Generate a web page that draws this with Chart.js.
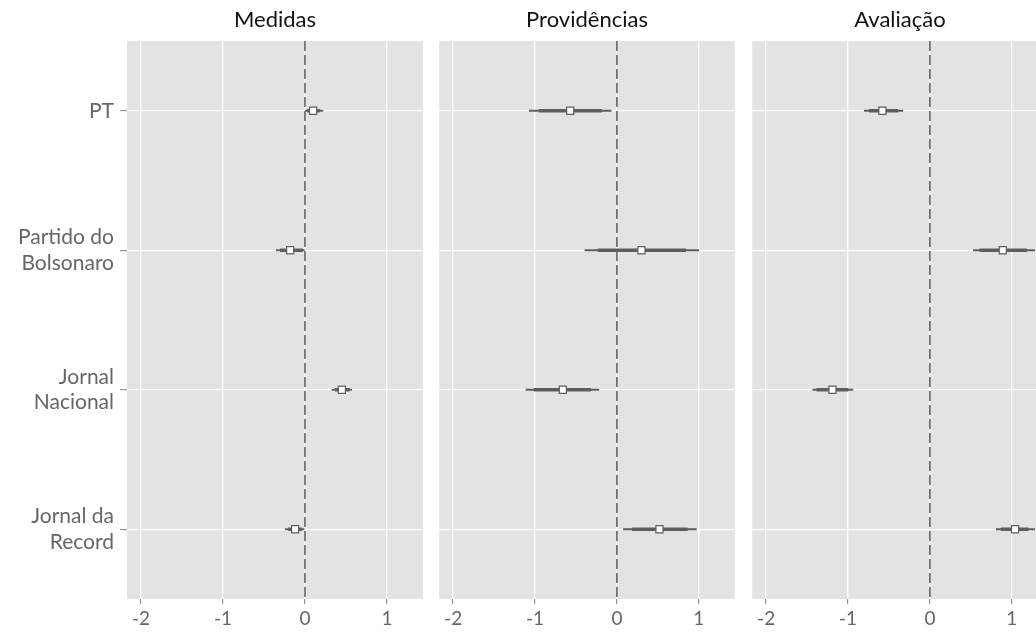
<!DOCTYPE html>
<html>
<head>
<meta charset="utf-8">
<script src="https://cdn.jsdelivr.net/npm/chart.js@4"></script>
<style>
  html, body { margin: 0; padding: 0; background: #fff; }
  #wrap { position: relative; width: 1036px; height: 637px; overflow: hidden; }
  canvas { position: absolute; top: 0; }
</style>
</head>
<body>
<div id="wrap">
  <canvas id="c1" width="430" height="637" style="left:0px"></canvas>
  <canvas id="c2" width="308" height="637" style="left:433px"></canvas>
  <canvas id="c3" width="308" height="637" style="left:746px"></canvas>
</div>
<script>
// categories (top to bottom) and facet titles
const categories = ["PT", ["Partido do", "Bolsonaro"], ["Jornal", "Nacional"], ["Jornal da", "Record"]]
const panelTitles = ["Medidas", "Providências", "Avaliação"]
const xTicks = [-2, -1, 0, 1]

// point estimates and intervals
const medidasEst = [0.10, -0.18, 0.45, -0.12]
const medidasInner = [[0.03, 0.18], [-0.30, -0.03], [0.37, 0.54], [-0.20, -0.04]]
const medidasOuter = [[0.0, 0.22], [-0.35, 0.0], [0.33, 0.57], [-0.24, -0.01]]

const provEst = [-0.57, 0.30, -0.66, 0.52]
const provInner = [[-0.95, -0.19], [-0.23, 0.84], [-1.01, -0.32], [0.19, 0.86]]
const provOuter = [[-1.07, -0.07], [-0.39, 1.0], [-1.11, -0.22], [0.08, 0.97]]

const avalEst = [-0.58, 0.89, -1.19, 1.04]
const avalInner = [[-0.74, -0.39], [0.61, 1.18], [-1.38, -1.0], [0.87, 1.2]]
const avalOuter = [[-0.80, -0.33], [0.53, 1.28], [-1.43, -0.94], [0.81, 1.28]]

Chart.defaults.font.family = "Lato, 'Open Sans', sans-serif"
Chart.defaults.animation = false

const markColor = "#5e5e5e"
const panelGrey = "#e3e3e3"

// grey panel background, dashed zero line and the strip title
const facetPlugin = {
  id: "facet",
  beforeDraw(chart) {
    const { ctx, chartArea: a } = chart
    ctx.save()
    ctx.fillStyle = panelGrey
    ctx.fillRect(a.left, a.top, a.right - a.left, a.bottom - a.top)
    ctx.restore()
  },
  beforeDatasetsDraw(chart) {
    const { ctx, chartArea: a } = chart
    const x0 = chart.scales.x.getPixelForValue(0)
    ctx.save()
    ctx.strokeStyle = "#5a5a5a"
    ctx.lineWidth = 1.5
    ctx.setLineDash([10, 4])
    ctx.beginPath()
    ctx.moveTo(x0, a.top)
    ctx.lineTo(x0, a.bottom)
    ctx.stroke()
    ctx.restore()
  },
  afterDraw(chart, args, opts) {
    const { ctx, chartArea: a } = chart
    ctx.save()
    ctx.fillStyle = "#111"
    ctx.font = "22px Lato, sans-serif"
    ctx.textAlign = "center"
    ctx.textBaseline = "middle"
    ctx.fillText(opts.text, (a.left + a.right) / 2, 20)
    ctx.restore()
  },
}

function makePanel(id, title, est, inner, outer, showY) {
  const ctx = document.getElementById(id)
  return new Chart(ctx, {
    type: "bar",
    data: {
      labels: categories,
      datasets: [
        {
          type: "line",
          label: "Estimativa",
          data: est,
          showLine: false,
          pointStyle: "rect",
          pointRadius: 5,
          pointBackgroundColor: "#ffffff",
          pointBorderColor: markColor,
          pointBorderWidth: 1.2,
          order: 0,
        },
        {
          label: "Inner",
          data: inner,
          backgroundColor: markColor,
          barThickness: 2.8,
          grouped: false,
          borderSkipped: false,
          order: 1,
        },
        {
          label: "Outer",
          data: outer,
          backgroundColor: markColor,
          barThickness: 1.2,
          grouped: false,
          borderSkipped: false,
          order: 2,
        },
      ],
    },
    options: {
      indexAxis: "y",
      responsive: false,
      layout: { padding: { top: 41, right: showY ? 7 : 0, left: 0, bottom: 0 } },
      scales: {
        x: {
          type: "linear",
          min: -2.17,
          max: 1.44,
          afterBuildTicks: (scale) => {
            scale.ticks = xTicks.map((v) => ({ value: v }))
          },
          afterFit: (scale) => {
            scale.height = 38
          },
          grid: { color: "#ffffff", lineWidth: 1.3, tickColor: "#7f7f7f", tickLength: 5, tickWidth: 1 },
          border: { display: false },
          ticks: { color: "#666", font: { size: 19 }, padding: 3, maxRotation: 0 },
        },
        y: {
          type: "category",
          offset: true,
          afterFit: (scale) => {
            scale.width = showY ? 127 : 0
          },
          grid: {
            offset: false,
            color: "#ffffff",
            lineWidth: 1.3,
            drawTicks: showY,
            tickColor: "#7f7f7f",
            tickLength: 7,
            tickWidth: 1,
          },
          border: { display: false },
          ticks: { display: showY, color: "#666", font: { size: 21, lineHeight: 1.2 }, padding: 6 },
        },
      },
      plugins: {
        legend: { display: false },
        tooltip: { enabled: false },
        facet: { text: title },
      },
    },
    plugins: [facetPlugin],
  })
}

makePanel("c1", panelTitles[0], medidasEst, medidasInner, medidasOuter, true)
makePanel("c2", panelTitles[1], provEst, provInner, provOuter, false)
makePanel("c3", panelTitles[2], avalEst, avalInner, avalOuter, false)
</script>
</body>
</html>
